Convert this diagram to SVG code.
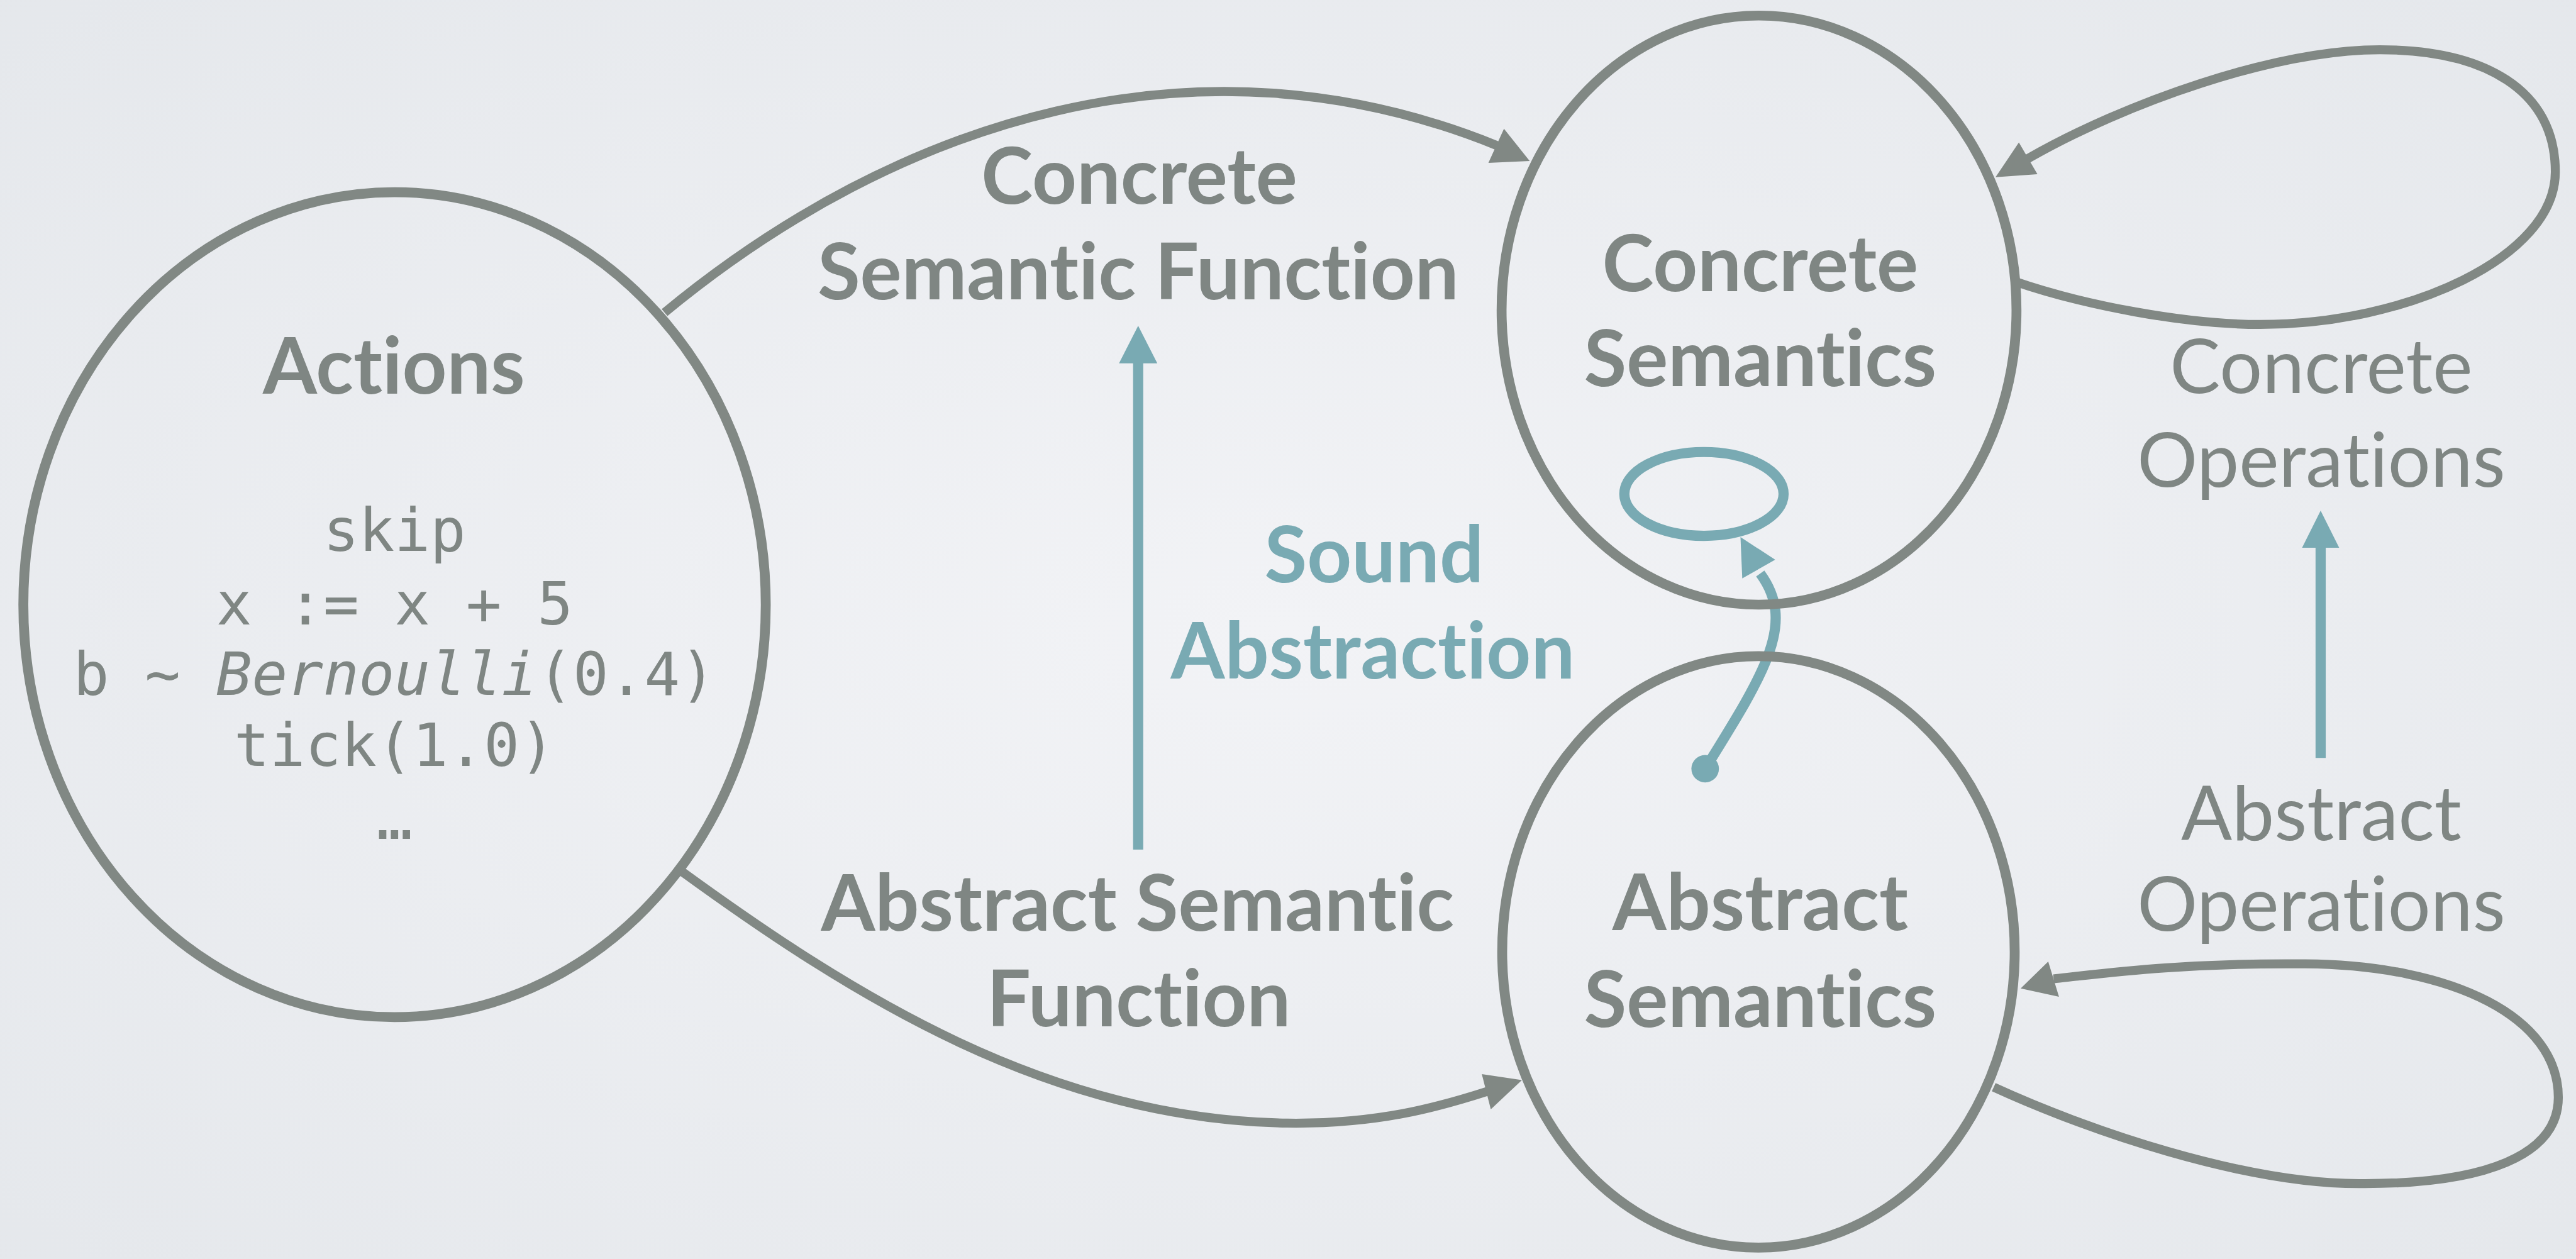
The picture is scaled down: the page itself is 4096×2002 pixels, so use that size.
<svg xmlns="http://www.w3.org/2000/svg" width="4096" height="2002" viewBox="0 0 4096 2002">
  <defs>
    <radialGradient id="bg" cx="50%" cy="50%" r="75%">
      <stop offset="0" stop-color="#f2f3f6"/>
      <stop offset="1" stop-color="#e4e7eb"/>
    </radialGradient>
    <style>
      .node { fill: none; stroke: #818884; stroke-width: 16.5; }
      .edge { fill: none; stroke: #818884; stroke-width: 15; }
      .head { fill: #818884; stroke: none; }
      .tedge { fill: none; stroke: #79aab3; stroke-width: 17; }
      .thead { fill: #79aab3; stroke: none; }
      .lbl { font-family: Lato, "Open Sans", "DejaVu Sans", sans-serif; font-size: 126px; fill: #7f8683; text-anchor: middle; font-variant-ligatures: none; font-feature-settings: "liga" 0, "clig" 0; }
      .b { font-weight: 700; font-size: 130px; }
      .r { font-weight: 400; }
      .teal { fill: #79aab3; }
      .mono { font-family: "DejaVu Sans Mono", "Liberation Mono", monospace; font-size: 99px; fill: #7f8683; text-anchor: middle; font-variant-ligatures: none; }
    </style>
  </defs>
  <rect x="0" y="0" width="4096" height="2002" fill="url(#bg)"/>
  <g transform="scale(0.952)">
    <g id="connectors">
      <!-- Actions -> Concrete Semantics -->
      <path class="edge" d="M1110,522 C1500,200 2000,40 2500,243"/>
      <polygon class="head" points="2555,269 2512,215 2486,272"/>
      <!-- Actions -> Abstract Semantics -->
      <path class="edge" d="M1138,1455 C1420,1660 1750,1870 2150,1876 C2300,1878 2400,1850 2484,1823"/>
      <polygon class="head" points="2542,1804 2475,1794 2490,1853"/>
      <!-- Concrete Semantics self loop -->
      <path class="edge" d="M3362,469 C3480,510 3650,542 3775,542 C4020,542 4268,430 4268,287 C4268,150 4150,83 3975,83 C3800,83 3549,172 3387,265"/>
      <polygon class="head" points="3333,296 3372,238 3403,291"/>
      <!-- Abstract Semantics self loop -->
      <path class="edge" d="M3330,1816 C3480,1885 3750,1980 3950,1977 C4150,1977 4273,1930 4273,1833 C4273,1700 4100,1612 3850,1610 C3650,1608 3520,1625 3430,1635"/>
      <polygon class="head" points="3375,1651 3421,1606 3439,1665"/>
      <!-- Abstract semantic function -> concrete semantic function -->
      <line class="tedge" x1="1901" y1="1419" x2="1901" y2="600"/>
      <polygon class="thead" points="1901,544 1869,607 1933,607"/>
      <!-- Abstract operations -> concrete operations -->
      <line class="tedge" x1="3876" y1="1266" x2="3876" y2="910"/>
      <polygon class="thead" points="3876,853 3845,915 3907,915"/>
      <!-- Abstract semantics -> concrete semantics (curved) -->
      <path class="tedge" d="M2848,1284 C2950,1120 3000,1040 2940,958"/>
      <circle class="thead" cx="2848" cy="1284" r="23"/>
      <polygon class="thead" points="2907,897 2910,966 2965,935"/>
    </g>
    <g id="actions">
      <ellipse class="node" cx="659" cy="1010" rx="620" ry="689"/>
      <text class="lbl b" x="658" y="658">Actions</text>
      <text class="mono" x="659" y="920">skip</text>
      <text class="mono" x="659" y="1043">x := x + 5</text>
      <text class="mono" x="659" y="1161">b ~ <tspan font-style="italic">Bernoulli</tspan>(0.4)</text>
      <text class="mono" x="659" y="1279">tick(1.0)</text>
      <text class="mono" x="659" y="1401">…</text>
    </g>
    <g id="concrete-semantics">
      <ellipse class="node" cx="2938" cy="518" rx="430" ry="492"/>
      <text class="lbl b" x="2940" y="486">Concrete</text>
      <text class="lbl b" x="2940" y="645">Semantics</text>
      <ellipse class="tedge" cx="2846" cy="825" rx="133" ry="70"/>
    </g>
    <g id="abstract-semantics">
      <ellipse class="node" cx="2937" cy="1590" rx="428" ry="494"/>
      <text class="lbl b" x="2940" y="1554">Abstract</text>
      <text class="lbl b" x="2940" y="1715">Semantics</text>
    </g>
    <g id="concrete-semantic-function">
      <text class="lbl b" x="1903" y="340">Concrete</text>
      <text class="lbl b" x="1901" y="500">Semantic Function</text>
    </g>
    <g id="abstract-semantic-function">
      <text class="lbl b" x="1900" y="1555">Abstract Semantic</text>
      <text class="lbl b" x="1902" y="1714">Function</text>
    </g>
    <g id="sound-abstraction">
      <text class="lbl b teal" x="2295" y="973">Sound</text>
      <text class="lbl b teal" x="2293" y="1133">Abstraction</text>
    </g>
    <g id="concrete-operations">
      <text class="lbl r" x="3877" y="657">Concrete</text>
      <text class="lbl r" x="3877" y="813">Operations</text>
    </g>
    <g id="abstract-operations">
      <text class="lbl r" x="3877" y="1403">Abstract</text>
      <text class="lbl r" x="3877" y="1555">Operations</text>
    </g>
  </g>
</svg>
